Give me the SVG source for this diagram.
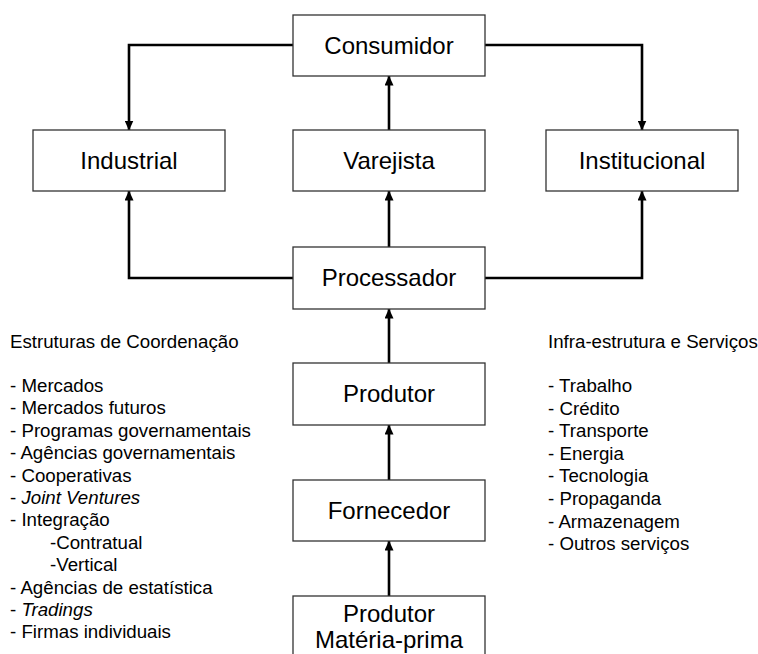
<svg xmlns="http://www.w3.org/2000/svg" width="758" height="654" viewBox="0 0 758 654">
  <style>
    .box { fill: #ffffff; stroke: #333333; stroke-width: 1.3; }
    .label { font-family: "Liberation Sans", Arial, sans-serif; font-size: 24px; fill: #000000; text-anchor: middle; }
    .list { font-family: "Liberation Sans", Arial, sans-serif; font-size: 18.7px; fill: #000000; }
    .conn { fill: none; stroke: #000000; stroke-width: 2.6; marker-end: url(#arrow); }
  </style>
  <defs>
    <marker id="arrow" markerUnits="userSpaceOnUse" markerWidth="10" markerHeight="9" refX="9.5" refY="4.5" orient="auto">
      <path d="M0,0 L10,4.5 L0,9 Z" fill="#000000"/>
    </marker>
  </defs>
  <rect width="758" height="654" fill="#ffffff"/>

  <!-- connectors -->
  <g id="connectors">
    <polyline class="conn" points="293,45 129,45 129,130"/>
    <polyline class="conn" points="485,45 642,45 642,130"/>
    <polyline class="conn" points="293,278 129,278 129,191"/>
    <polyline class="conn" points="485,278 642,278 642,191"/>
    <line class="conn" x1="389" y1="130" x2="389" y2="76"/>
    <line class="conn" x1="389" y1="247" x2="389" y2="191"/>
    <line class="conn" x1="389" y1="363" x2="389" y2="309"/>
    <line class="conn" x1="389" y1="480" x2="389" y2="425"/>
    <line class="conn" x1="389" y1="596" x2="389" y2="541"/>
  </g>

  <!-- chain nodes -->
  <g id="consumidor">
    <rect class="box" x="293" y="15" width="192" height="61"/>
    <text class="label" x="389" y="54">Consumidor</text>
  </g>
  <g id="industrial">
    <rect class="box" x="33" y="130" width="192" height="61"/>
    <text class="label" x="129" y="169">Industrial</text>
  </g>
  <g id="varejista">
    <rect class="box" x="293" y="130" width="192" height="61"/>
    <text class="label" x="389" y="169">Varejista</text>
  </g>
  <g id="institucional">
    <rect class="box" x="546" y="130" width="192" height="61"/>
    <text class="label" x="642" y="169">Institucional</text>
  </g>
  <g id="processador">
    <rect class="box" x="293" y="247" width="192" height="62"/>
    <text class="label" x="389" y="286">Processador</text>
  </g>
  <g id="produtor">
    <rect class="box" x="293" y="363" width="192" height="62"/>
    <text class="label" x="389" y="402">Produtor</text>
  </g>
  <g id="fornecedor">
    <rect class="box" x="293" y="480" width="192" height="61"/>
    <text class="label" x="389" y="519">Fornecedor</text>
  </g>
  <g id="produtor-materia-prima">
    <rect class="box" x="293" y="596" width="192" height="80"/>
    <text class="label" x="389" y="622">Produtor</text>
    <text class="label" x="389" y="648">Matéria-prima</text>
  </g>

  <!-- coordination structures -->
  <g id="estruturas">
    <text class="list" x="10" y="348">Estruturas de Coordenação</text>
    <text class="list" x="10" y="392">- Mercados</text>
    <text class="list" x="10" y="414.4">- Mercados futuros</text>
    <text class="list" x="10" y="436.8">- Programas governamentais</text>
    <text class="list" x="10" y="459.2">- Agências governamentais</text>
    <text class="list" x="10" y="481.6">- Cooperativas</text>
    <text class="list" x="10" y="504">- <tspan font-style="italic">Joint Ventures</tspan></text>
    <text class="list" x="10" y="526.4">- Integração</text>
    <text class="list" x="50" y="548.8">-Contratual</text>
    <text class="list" x="50" y="571.2">-Vertical</text>
    <text class="list" x="10" y="593.6">- Agências de estatística</text>
    <text class="list" x="10" y="616">- <tspan font-style="italic">Tradings</tspan></text>
    <text class="list" x="10" y="638.4">- Firmas individuais</text>
  </g>

  <!-- infrastructure and services -->
  <g id="infraestrutura">
    <text class="list" x="548" y="348">Infra-estrutura e Serviços</text>
    <text class="list" x="548" y="392">- Trabalho</text>
    <text class="list" x="548" y="414.6">- Crédito</text>
    <text class="list" x="548" y="437.2">- Transporte</text>
    <text class="list" x="548" y="459.8">- Energia</text>
    <text class="list" x="548" y="482.4">- Tecnologia</text>
    <text class="list" x="548" y="505">- Propaganda</text>
    <text class="list" x="548" y="527.6">- Armazenagem</text>
    <text class="list" x="548" y="550.2">- Outros serviços</text>
  </g>
</svg>
